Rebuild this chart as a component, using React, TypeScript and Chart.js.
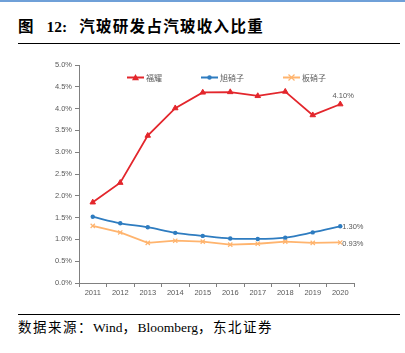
import React, { useEffect, useRef } from "react";
import { Chart, registerables } from "chart.js";

Chart.register(...registerables);

const years = ["2011", "2012", "2013", "2014", "2015", "2016", "2017", "2018", "2019", "2020"];
const fuyao = [1.85, 2.3, 3.38, 4.01, 4.37, 4.38, 4.29, 4.39, 3.85, 4.1];
const asahi = [1.52, 1.37, 1.28, 1.15, 1.08, 1.02, 1.01, 1.04, 1.16, 1.3];
const nsg = [1.31, 1.16, 0.92, 0.97, 0.95, 0.88, 0.9, 0.95, 0.92, 0.93];
const seriesNames = ["福耀", "旭硝子", "板硝子"];
const lastLabels = ["4.10%", "1.30%", "0.93%"];

const RED = "#E3262C";
const BLUE = "#2E7CC0";
const ORANGE = "#FFB46E";
const GRAY = "#595959";
const TICK_FONT = "'Liberation Sans', 'Noto Sans CJK SC', sans-serif";

function drawMarker(ctx: CanvasRenderingContext2D, style: string, r: number, x: number, y: number, color: string) {
  ctx.save();
  ctx.fillStyle = color;
  ctx.strokeStyle = color;
  ctx.beginPath();
  if (style === "triangle") {
    ctx.moveTo(x, y - r);
    ctx.lineTo(x + r, y + r * 0.8);
    ctx.lineTo(x - r, y + r * 0.8);
    ctx.closePath();
    ctx.fill();
  } else if (style === "circle") {
    ctx.arc(x, y, r, 0, Math.PI * 2);
    ctx.fill();
  } else {
    ctx.lineWidth = 1.2;
    ctx.moveTo(x - r, y - r);
    ctx.lineTo(x + r, y + r);
    ctx.moveTo(x + r, y - r);
    ctx.lineTo(x - r, y + r);
    ctx.stroke();
  }
  ctx.restore();
}

const overlayPlugin = {
  id: "overlay",
  afterDatasetsDraw(chart: any) {
    const ctx = chart.ctx;
    ctx.save();
    ctx.fillStyle = GRAY;
    ctx.font = `7.5px ${TICK_FONT}`;
    const m0 = chart.getDatasetMeta(0).data[9];
    const m1 = chart.getDatasetMeta(1).data[9];
    const m2 = chart.getDatasetMeta(2).data[9];
    ctx.textAlign = "center";
    ctx.textBaseline = "bottom";
    ctx.fillText(lastLabels[0], m0.x + 3, m0.y - 5);
    ctx.textAlign = "left";
    ctx.textBaseline = "middle";
    ctx.fillText(lastLabels[1], m1.x + 2, m1.y + 1);
    ctx.fillText(lastLabels[2], m2.x + 2, m2.y + 1);

    const ly = 27.5;
    const items = [
      { x: 127, color: RED, style: "triangle", r: 3.5 },
      { x: 201, color: BLUE, style: "circle", r: 2.2 },
      { x: 283, color: ORANGE, style: "crossRot", r: 3 },
    ];
    items.forEach((it, i) => {
      ctx.strokeStyle = it.color;
      ctx.lineWidth = 2;
      ctx.beginPath();
      ctx.moveTo(it.x, ly);
      ctx.lineTo(it.x + 17, ly);
      ctx.stroke();
      drawMarker(ctx, it.style, it.r, it.x + 8.5, ly, it.color);
      ctx.fillStyle = GRAY;
      ctx.font = `8px 'Noto Sans CJK SC', sans-serif`;
      ctx.textAlign = "left";
      ctx.textBaseline = "middle";
      ctx.fillText(seriesNames[i], it.x + 19, ly);
    });
    ctx.restore();
  },
};

function LineChart() {
  const ref = useRef<HTMLCanvasElement>(null);
  useEffect(() => {
    if (!ref.current) return;
    const chart = new Chart(ref.current, {
      type: "line",
      data: {
        labels: years,
        datasets: [
          {
            label: seriesNames[0],
            data: fuyao,
            borderColor: RED,
            backgroundColor: RED,
            borderWidth: 1.8,
            pointStyle: "triangle",
            pointRadius: 3.2,
            pointBorderWidth: 1,
            tension: 0,
          },
          {
            label: seriesNames[1],
            data: asahi,
            borderColor: BLUE,
            backgroundColor: BLUE,
            borderWidth: 1.8,
            pointStyle: "circle",
            pointRadius: 2.2,
            pointBorderWidth: 0,
            cubicInterpolationMode: "monotone",
          },
          {
            label: seriesNames[2],
            data: nsg,
            borderColor: ORANGE,
            backgroundColor: ORANGE,
            borderWidth: 1.8,
            pointStyle: "crossRot",
            pointRadius: 3,
            pointBorderWidth: 1.2,
            tension: 0,
          },
        ],
      },
      options: {
        animation: false,
        responsive: false,
        maintainAspectRatio: false,
        layout: { padding: { left: 0, right: 51, top: 15, bottom: 0 } },
        plugins: { legend: { display: false }, tooltip: { enabled: false } },
        scales: {
          x: {
            offset: true,
            grid: {
              offset: true,
              drawOnChartArea: false,
              drawTicks: true,
              tickLength: 4,
              color: "#808080",
            },
            border: { color: "#808080", width: 1 },
            ticks: {
              color: GRAY,
              font: { family: TICK_FONT, size: 7.5 },
              padding: 1,
              maxRotation: 0,
            },
            afterFit: (s: any) => {
              s.height = 17;
            },
          },
          y: {
            min: 0,
            max: 5,
            grid: {
              drawOnChartArea: false,
              drawTicks: true,
              tickLength: 4,
              color: "#808080",
            },
            border: { color: "#808080", width: 1 },
            ticks: {
              stepSize: 0.5,
              color: GRAY,
              font: { family: TICK_FONT, size: 7.5 },
              padding: 3,
              callback: (v: any) => Number(v).toFixed(1) + "%",
            },
            afterFit: (s: any) => {
              s.width = 79;
            },
          },
        },
      },
      plugins: [overlayPlugin],
    } as any);
    return () => chart.destroy();
  }, []);
  return <canvas ref={ref} width={405} height={250} style={{ position: "absolute", left: 0, top: 50, width: 405, height: 250 }} />;
}

export default function App() {
  useEffect(() => {
    document.body.style.margin = "0";
  }, []);
  return (
    <div style={{ position: "relative", width: 405, height: 353, background: "#fff", overflow: "hidden" }}>
      <div style={{ position: "absolute", left: 0, top: 0, width: 405, height: 1.5, background: "#6FA0D8" }} />
      <div
        style={{
          position: "absolute",
          left: 18,
          top: 17,
          fontFamily: "'Liberation Serif', 'Noto Sans CJK SC', serif",
          fontWeight: "bold",
          fontSize: 15.5,
          color: "#000",
          whiteSpace: "nowrap",
          lineHeight: "20px",
        }}
      >
        <span>图</span>
        <span style={{ marginLeft: 13 }}>12:</span>
        <span style={{ marginLeft: 12, letterSpacing: 1.3 }}>汽玻研发占汽玻收入比重</span>
      </div>
      <div style={{ position: "absolute", left: 18, top: 43, width: 382, height: 1, background: "#000" }} />
      <LineChart />
      <div style={{ position: "absolute", left: 18, top: 314, width: 382, height: 1, background: "#000" }} />
      <div
        style={{
          position: "absolute",
          left: 18,
          top: 320,
          fontFamily: "'Liberation Serif', 'Noto Sans CJK SC', serif",
          fontSize: 13.5,
          color: "#000",
          whiteSpace: "nowrap",
          lineHeight: "16px",
        }}
      >
        <span style={{ letterSpacing: 1.5 }}>数据来源：</span>
        <span>Wind</span>
        <span style={{ letterSpacing: 1.5 }}>，</span>
        <span>Bloomberg</span>
        <span style={{ letterSpacing: 1.5 }}>，东北证券</span>
      </div>
    </div>
  );
}
